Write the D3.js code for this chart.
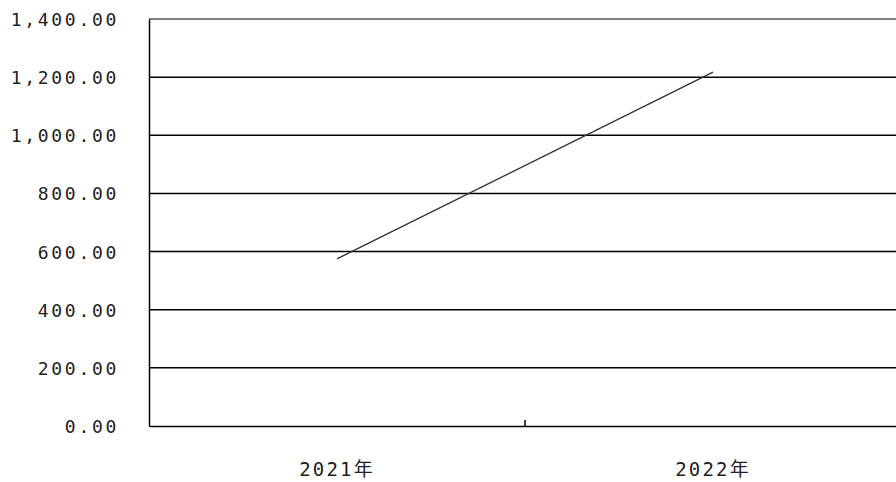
<!DOCTYPE html>
<html>
<head>
<meta charset="utf-8">
<script src="https://cdn.jsdelivr.net/npm/d3@7.9.0/dist/d3.min.js"></script>
<style>
    body { margin: 0; background: #fff; }
    svg { display: block; }
    .tick text { font-family: "DejaVu Sans Mono", "Noto Sans CJK SC", monospace; fill: #222; }
</style>
</head>
<body>
<svg width="896" height="482"></svg>
<script>
// data
const years = ['2021年', '2022年'];
const values = [575, 1217];
const yTicks = [0, 200, 400, 600, 800, 1000, 1200, 1400];

const svg = d3.select('svg');
const plotLeft = 149, plotRight = 901, plotTop = 19, plotBottom = 426;

let x = d3.scaleBand().domain(years).range([plotLeft, plotRight]);
let y = d3.scaleLinear().domain([0, 1400]).range([plotBottom, plotTop]);

// horizontal grid lines
svg.append('g')
    .selectAll('line')
    .data(yTicks.slice(1))
    .join('line')
    .attr('x1', plotLeft)
    .attr('x2', plotRight)
    .attr('y1', d => y(d))
    .attr('y2', d => y(d))
    .attr('stroke', d => d === 1400 ? '#555' : '#000')
    .attr('stroke-width', 1.5);

// y axis
let yAxis = svg.append('g')
    .attr('transform', `translate(${plotLeft},0)`)
    .call(d3.axisLeft(y).tickValues(yTicks).tickSize(0).tickPadding(30)
        .tickFormat(d3.format(',.2f')));
yAxis.select('.domain').attr('stroke', '#000').attr('stroke-width', 1.5);
yAxis.selectAll('text')
    .attr('font-size', 18)
    .attr('letter-spacing', 2.7)
    .attr('dy', '0.36em');

// x axis
let xAxis = svg.append('g')
    .attr('transform', `translate(0,${plotBottom})`)
    .call(d3.axisBottom(x).tickSize(0).tickPadding(37));
xAxis.select('.domain').attr('stroke', '#000').attr('stroke-width', 1.5);
xAxis.selectAll('text').attr('font-size', 19).attr('letter-spacing', 2.2);

// tick mark between the categories
svg.append('line')
    .attr('x1', x(years[1]))
    .attr('x2', x(years[1]))
    .attr('y1', plotBottom)
    .attr('y2', plotBottom - 6)
    .attr('stroke', '#000')
    .attr('stroke-width', 1.5);

// the series line
let line = d3.line()
    .x((d, i) => x(years[i]) + x.bandwidth() / 2)
    .y(d => y(d));

svg.append('path')
    .datum(values)
    .attr('d', line)
    .attr('fill', 'none')
    .attr('stroke', '#333')
    .attr('stroke-width', 1.4);
</script>
</body>
</html>
